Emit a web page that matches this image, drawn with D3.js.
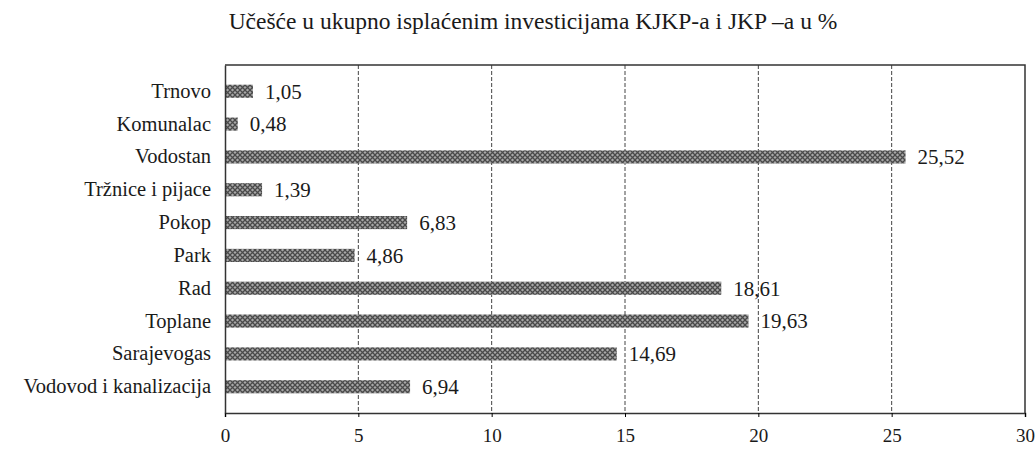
<!DOCTYPE html>
<html>
<head>
<meta charset="utf-8">
<script src="https://cdn.jsdelivr.net/npm/d3@7"></script>
<style>
  body { margin: 0; background: #fff; }
  text { font-family: "Liberation Serif", "Times New Roman", serif; fill: #1a1a1a; }
</style>
</head>
<body>
<div id="viz"></div>
<script>
const categories = ["Trnovo", "Komunalac", "Vodostan", "Tržnice i pijace", "Pokop", "Park", "Rad", "Toplane", "Sarajevogas", "Vodovod i kanalizacija"];
const values = [1.05, 0.48, 25.52, 1.39, 6.83, 4.86, 18.61, 19.63, 14.69, 6.94];
const tickValues = [0, 5, 10, 15, 20, 25, 30];
const title = "Učešće u ukupno isplaćenim investicijama KJKP-a i JKP –a u %";

const width = 1035, height = 454;
const margin = { top: 65, right: 10, bottom: 41, left: 225 };
const w = width - margin.left - margin.right,
      h = height - margin.top - margin.bottom;

const svg = d3.select("#viz")
  .append("svg")
  .attr("width", width)
  .attr("height", height);

// crosshatch fill like the scan
const defs = svg.append("defs");
const pat = defs.append("pattern")
  .attr("id", "hatch")
  .attr("patternUnits", "userSpaceOnUse")
  .attr("width", 5)
  .attr("height", 5);
pat.append("rect").attr("width", 5).attr("height", 5).attr("fill", "#a8a8a8");
pat.append("path").attr("d", "M0,0L5,5M5,0L0,5").attr("stroke", "#4a4a4a").attr("stroke-width", 1.3);

svg.append("text")
  .attr("x", 533)
  .attr("y", 29)
  .attr("text-anchor", "middle")
  .style("font-size", "23.5px")
  .text(title);

const g = svg.append("g")
  .attr("transform", `translate(${margin.left},${margin.top})`);

const x = d3.scaleLinear().domain([0, 30]).range([0, w]);
const y = d3.scaleBand().domain(categories).range([0, h]).padding(0.6);

// dashed gridlines
g.selectAll("line.grid")
  .data(tickValues.filter(d => d > 0 && d < 30))
  .join("line")
  .attr("class", "grid")
  .attr("x1", d => x(d)).attr("x2", d => x(d))
  .attr("y1", 0).attr("y2", h)
  .attr("stroke", "#444")
  .attr("stroke-width", 1)
  .attr("stroke-dasharray", "4,2");

// frame top + right
g.append("path")
  .attr("d", `M0,0H${w}V${h}`)
  .attr("fill", "none")
  .attr("stroke", "#333")
  .attr("stroke-width", 1.5);

// bars
g.selectAll("rect.bar")
  .data(values)
  .join("rect")
  .attr("class", "bar")
  .attr("x", 0)
  .attr("y", (d, i) => y(categories[i]))
  .attr("width", d => x(d))
  .attr("height", y.bandwidth())
  .attr("fill", "url(#hatch)");

// value labels, comma decimals
g.selectAll("text.val")
  .data(values)
  .join("text")
  .attr("class", "val")
  .attr("x", d => x(d) + 12)
  .attr("y", (d, i) => y(categories[i]) + y.bandwidth() / 2)
  .attr("dy", "0.35em")
  .style("font-size", "21px")
  .text(d => d.toFixed(2).replace(".", ","));

// axes
const xAxis = g.append("g")
  .attr("transform", `translate(0,${h})`)
  .call(d3.axisBottom(x).tickValues(tickValues).tickSize(4).tickPadding(12));
xAxis.selectAll("text").style("font-size", "19px").attr("fill", "#1a1a1a");
xAxis.select(".domain").attr("stroke", "#333").attr("stroke-width", 1.5);

const yAxis = g.append("g")
  .call(d3.axisLeft(y).tickSize(0).tickPadding(14));
yAxis.selectAll("text").style("font-size", "20.5px").attr("fill", "#1a1a1a");
yAxis.select(".domain").attr("stroke", "#333").attr("stroke-width", 1.5);
</script>
</body>
</html>
